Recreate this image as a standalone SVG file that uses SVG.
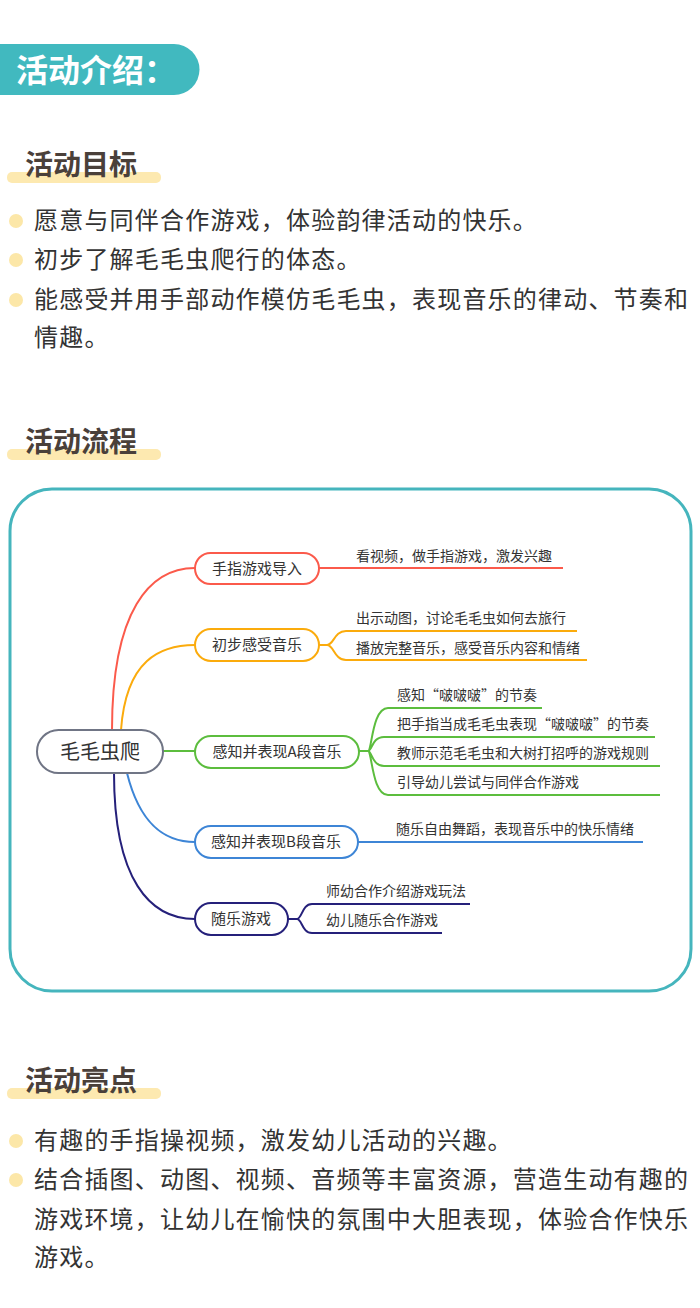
<svg xmlns="http://www.w3.org/2000/svg" width="700" height="1308" viewBox="0 0 700 1308">
<style>
.h{font-family:"Noto Sans CJK SC",sans-serif;font-weight:bold;font-size:28px;fill:#4a403a}
.b{font-family:"Noto Sans CJK SC",sans-serif;font-size:24px;letter-spacing:1.2px;fill:#333}
.n{font-family:"Noto Sans CJK SC",sans-serif;font-size:15px;fill:#333}
.l{font-family:"Noto Sans CJK SC",sans-serif;font-size:14px;fill:#333}
.bar{fill:#fde9b0}
.dot{fill:#fce7a8}
.nd{fill:#fff;stroke-width:2}
.c{fill:none;stroke-width:2}
</style>
<rect width="700" height="1308" fill="#fff"/>
<path d="M0,44 H174 A25.5,25.5 0 0 1 174,95 H0 Z" fill="#41b9bf"/>
<text x="16" y="82" font-family="Noto Sans CJK SC,sans-serif" font-weight="bold" font-size="32" fill="#fff">活动介绍：</text>

<rect class="bar" x="7" y="172" width="154" height="11" rx="5"/>
<text class="h" x="25" y="175">活动目标</text>
<circle class="dot" cx="16" cy="221" r="7"/><text class="b" x="34" y="229">愿意与同伴合作游戏，体验韵律活动的快乐。</text>
<circle class="dot" cx="16" cy="260" r="7"/><text class="b" x="34" y="268">初步了解毛毛虫爬行的体态。</text>
<circle class="dot" cx="16" cy="300" r="7"/><text class="b" x="34" y="308">能感受并用手部动作模仿毛毛虫，表现音乐的律动、节奏和</text>
<text class="b" x="34" y="346">情趣。</text>

<rect class="bar" x="7" y="449" width="154" height="11" rx="5"/>
<text class="h" x="25" y="452">活动流程</text>

<rect x="10" y="489" width="681" height="502" rx="42" fill="none" stroke="#45b5bd" stroke-width="3"/>

<g id="connectors">
<path class="c" stroke="#fb5a4b" stroke-width="3.5" d="M112,730 C112,610 150,568 195,568"/>
<path class="c" stroke="#fbab0c" stroke-width="3.5" d="M121,730 C126,660 160,645 195,645"/>
<path class="c" stroke="#5cbd3e" stroke-width="3" d="M163,751 H195"/>
<path class="c" stroke="#3d85d6" stroke-width="3" d="M127,773 C140,825 165,842 195,842"/>
<path class="c" stroke="#25207a" stroke-width="3" d="M114,773 C114,880 150,919 195,919"/>
<path class="c" stroke="#fb5a4b" d="M319,568 H563"/>
<path class="c" stroke="#fbab0c" d="M319,645 H327 M577,631 H346 C334,631 334,645 327,645 C334,645 334,660 346,660 H587"/>
<path class="c" stroke="#5cbd3e" d="M359,751 H368 M542,708 H388 C372,708 372,751 368,751 C372,751 372,795 388,795 H660 M655,737 H384 C372,737 372,751 368,751 M660,766 H384 C372,766 372,751 368,751"/>
<path class="c" stroke="#3d85d6" d="M358,842 H643"/>
<path class="c" stroke="#25207a" d="M288,919 H297 M470,904 H312 C302,904 302,919 297,919 C302,919 302,933 312,933 H442"/>
</g>

<g id="root"><rect class="nd" x="37" y="730" width="126" height="43" rx="21.5" stroke="#707585"/><text x="100" y="759" text-anchor="middle" font-family="Noto Sans CJK SC,sans-serif" font-size="20" fill="#333">毛毛虫爬</text></g>
<g id="n1"><rect class="nd" x="195" y="553" width="124" height="31" rx="15.5" stroke="#fb5a4b"/><text class="n" x="257" y="574" text-anchor="middle">手指游戏导入</text></g>
<g id="n2"><rect class="nd" x="195" y="629" width="124" height="32" rx="16" stroke="#fbab0c"/><text class="n" x="257" y="650" text-anchor="middle">初步感受音乐</text></g>
<g id="n3"><rect class="nd" x="195" y="736" width="164" height="32" rx="16" stroke="#5cbd3e"/><text class="n" x="277" y="757" text-anchor="middle">感知并表现A段音乐</text></g>
<g id="n4"><rect class="nd" x="195" y="826" width="163" height="32" rx="16" stroke="#3d85d6"/><text class="n" x="276" y="847" text-anchor="middle">感知并表现B段音乐</text></g>
<g id="n5"><rect class="nd" x="195" y="903" width="93" height="32" rx="16" stroke="#25207a"/><text class="n" x="241" y="924" text-anchor="middle">随乐游戏</text></g>

<g id="leaves">
<text class="l" x="356" y="561">看视频，做手指游戏，激发兴趣</text>
<text class="l" x="356" y="623">出示动图，讨论毛毛虫如何去旅行</text>
<text class="l" x="356" y="653">播放完整音乐，感受音乐内容和情绪</text>
<text class="l" x="397" y="700">感知“啵啵啵”的节奏</text>
<text class="l" x="397" y="729">把手指当成毛毛虫表现“啵啵啵”的节奏</text>
<text class="l" x="397" y="758">教师示范毛毛虫和大树打招呼的游戏规则</text>
<text class="l" x="397" y="787">引导幼儿尝试与同伴合作游戏</text>
<text class="l" x="396" y="834">随乐自由舞蹈，表现音乐中的快乐情绪</text>
<text class="l" x="326" y="896">师幼合作介绍游戏玩法</text>
<text class="l" x="326" y="925">幼儿随乐合作游戏</text>
</g>

<rect class="bar" x="7" y="1088" width="154" height="11" rx="5"/>
<text class="h" x="25" y="1091">活动亮点</text>
<circle class="dot" cx="16" cy="1141" r="7"/><text class="b" x="34" y="1149">有趣的手指操视频，激发幼儿活动的兴趣。</text>
<circle class="dot" cx="16" cy="1180" r="7"/><text class="b" x="34" y="1188">结合插图、动图、视频、音频等丰富资源，营造生动有趣的</text>
<text class="b" x="34" y="1228">游戏环境，让幼儿在愉快的氛围中大胆表现，体验合作快乐</text>
<text class="b" x="34" y="1266">游戏。</text>
</svg>
